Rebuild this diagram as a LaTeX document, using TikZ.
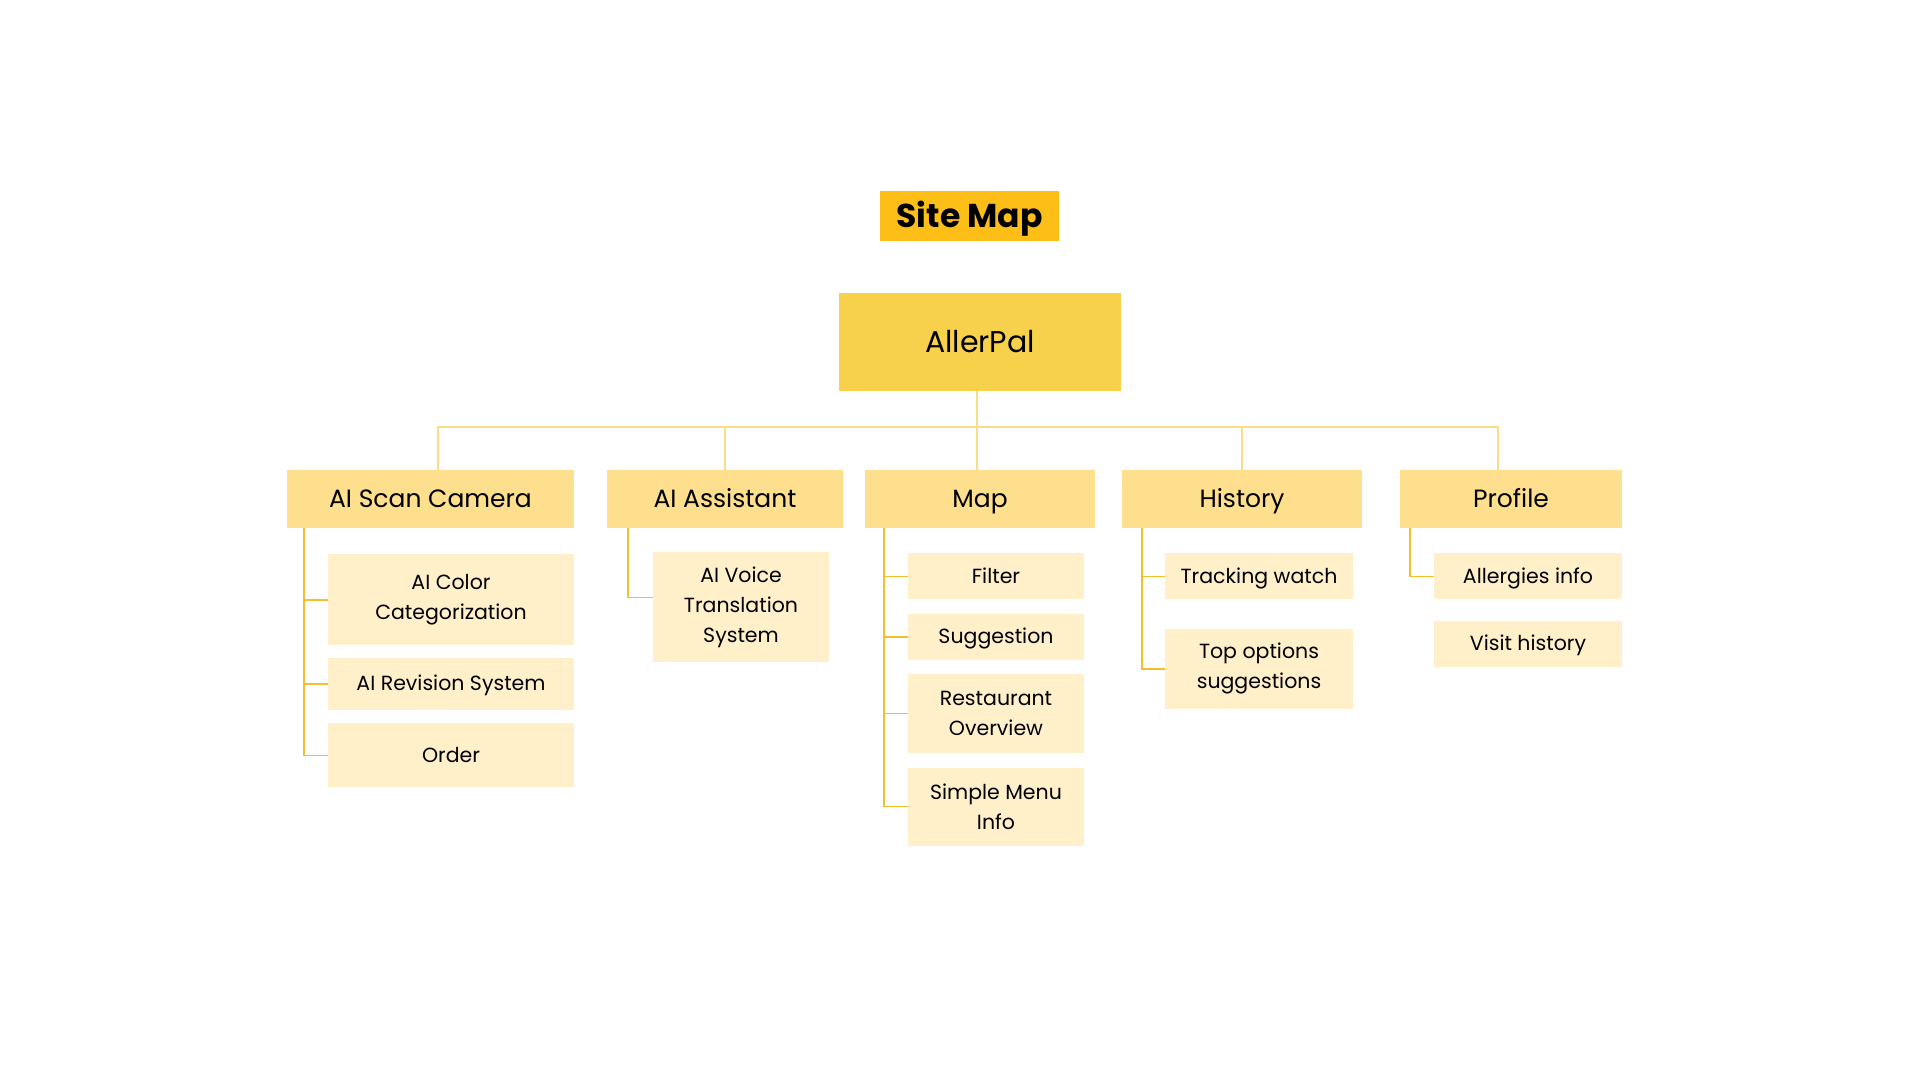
\documentclass[tikz,border=0pt]{standalone}
\usepackage{fontspec}
\setmainfont{Poppins}
\usepackage{tikz}
\usetikzlibrary{positioning}
\usepackage{xcolor}
\definecolor{titleyellow}{RGB}{253,191,23}
\definecolor{rootyellow}{RGB}{247,209,76}
\definecolor{headyellow}{RGB}{254,223,142}
\definecolor{leafyellow}{RGB}{255,240,202}
\definecolor{busline}{RGB}{251,221,134}
\definecolor{treeline}{RGB}{244,191,42}

\begin{document}
\begin{tikzpicture}[
  x=1pt, y=-1pt,
  title/.style={rectangle, fill=titleyellow, inner sep=0pt, minimum width=179pt, minimum height=50pt, text height=23pt, text depth=0pt, font=\fontsize{33}{36}\selectfont\bfseries},
  root/.style={rectangle, fill=rootyellow, inner sep=0pt, minimum width=282pt, minimum height=98pt, text height=21pt, text depth=0pt, font=\fontsize{30}{34}\selectfont},
  section/.style={rectangle, fill=headyellow, inner sep=0pt, minimum height=58pt, text height=17.5pt, text depth=0pt, font=\fontsize{25}{30}\selectfont},
  page/.style={rectangle, fill=leafyellow, inner sep=0pt, align=center, font=\fontsize{20.5}{30}\selectfont},
  oneline/.style={text height=14.3pt, text depth=0pt},
  bus/.style={draw=busline, line width=1.8pt},
  branch/.style={draw=treeline, line width=1.4pt},
]
  \useasboundingbox (0,0) rectangle (1920,1080);

  % Title and root
  \node[title] (sitemap) at (969.5,216) {Site Map};
  \node[root] (allerpal) at (980,342) {AllerPal};

  % Sections
  \node[section, minimum width=287pt] (scan) at (430.5,499) {AI Scan Camera};
  \node[section, minimum width=236pt] (assist) at (725,499) {AI Assistant};
  \node[section, minimum width=230pt] (map) at (980,499) {Map};
  \node[section, minimum width=240pt] (hist) at (1242,499) {History};
  \node[section, minimum width=222pt] (prof) at (1511,499) {Profile};

  \foreach \n/\dx in {scan/7.5, assist/0, map/-3, hist/0, prof/-13}
    \draw[bus] ([xshift=-3pt]allerpal.south) -- ++(0,36) -| ([xshift=\dx pt]\n.north);

  % AI Scan Camera
  \node[page, minimum width=246pt, minimum height=91pt, below right=26pt and 41pt of scan.south west] (color) {AI Color\\Categorization};
  \node[page, oneline, minimum width=246pt, minimum height=52pt, below=12pt of color] (revision) {AI Revision System};
  \node[page, oneline, minimum width=246pt, minimum height=64pt, below=13pt of revision] (order) {Order};
  \foreach \c in {color, revision, order}
    \draw[branch] ([xshift=17pt]scan.south west) |- (\c.west);

  % AI Assistant
  \node[page, minimum width=176pt, minimum height=110pt, below right=24pt and 46pt of assist.south west] (voice) {AI Voice\\Translation\\System};
  \draw[branch] ([xshift=21pt]assist.south west) |- ([yshift=10pt]voice.west);

  % Map
  \node[page, oneline, minimum width=176pt, minimum height=46pt, below right=25pt and 43pt of map.south west] (filter) {Filter};
  \node[page, oneline, minimum width=176pt, minimum height=46pt, below=14pt of filter] (suggest) {Suggestion};
  \node[page, minimum width=176pt, minimum height=79pt, below=14pt of suggest] (overview) {Restaurant\\Overview};
  \node[page, minimum width=176pt, minimum height=78pt, below=14pt of overview] (menu) {Simple Menu\\Info};
  \foreach \c in {filter, suggest, overview, menu}
    \draw[branch] ([xshift=19pt]map.south west) |- (\c.west);

  % History
  \node[page, oneline, minimum width=188pt, minimum height=46pt, below right=25pt and 43pt of hist.south west] (tracking) {Tracking watch};
  \node[page, minimum width=188pt, minimum height=80pt, below=29pt of tracking] (topopt) {Top options\\suggestions};
  \foreach \c in {tracking, topopt}
    \draw[branch] ([xshift=20pt]hist.south west) |- (\c.west);

  % Profile
  \node[page, oneline, minimum width=188pt, minimum height=46pt, below right=25pt and 34pt of prof.south west] (allergies) {Allergies info};
  \node[page, oneline, minimum width=188pt, minimum height=46pt, below=21pt of allergies] (visits) {Visit history};
  \draw[branch] ([xshift=10pt]prof.south west) |- (allergies.west);
\end{tikzpicture}
\end{document}
